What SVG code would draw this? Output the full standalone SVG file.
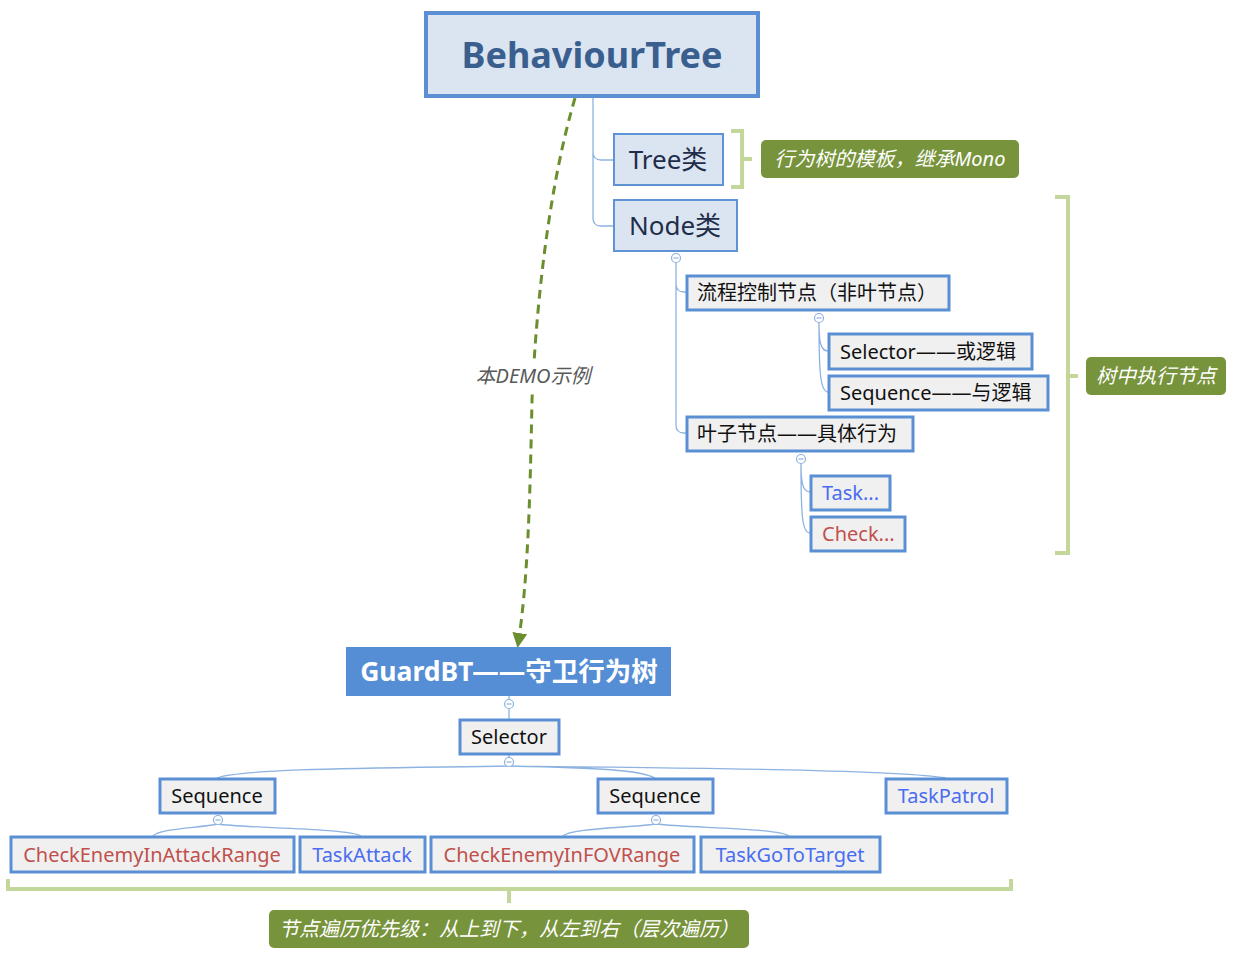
<svg xmlns="http://www.w3.org/2000/svg" width="1240" height="958" viewBox="0 0 1240 958">
<style>
text{font-family:"Noto Sans","Noto Sans CJK SC",sans-serif;}
.b1{fill:#dbe5f1;stroke:#5f93d6;stroke-width:2}
.b2{fill:#f0f0f0;stroke:#5b8fd4;stroke-width:3}
.t1{font-size:26px;fill:#1f2d4a;text-anchor:middle}
.t2{font-size:20px;fill:#111}
.t3{font-size:20px;fill:#111;text-anchor:middle}
.blue{fill:#4a6cf0}
.red{fill:#c0504d}
.ln{fill:none;stroke:#8db3e2;stroke-width:1.3}
.dot{fill:#fff;stroke:#8db3e2;stroke-width:1.2}
.mn{stroke:#8db3e2;stroke-width:1.2}
.br{fill:none;stroke:#c4d79b;stroke-width:4}
.gl{fill:#77933c}
.gt{font-size:20px;fill:#fff;font-style:italic;text-anchor:middle}
</style>
<defs>
<marker id="arr" viewBox="0 0 10 10" refX="8" refY="5" markerWidth="5" markerHeight="5" orient="auto">
<path d="M0,0 L10,5 L0,10 z" fill="#6b8e2f"/>
</marker>
<g id="col">
<circle class="dot" cx="0" cy="0" r="4.5"/>
<path class="mn" d="M-2.5,0 H2.5"/>
</g>
</defs>
<g id="connectors">
<path class="ln" d="M593,97 V152 Q593,160 601,160 H613 M593,152 V218 Q593,226 601,226 H613"/>
<path class="ln" d="M676,262 V284 Q676,292 684,292 H686 M676,284 V425 Q676,433 684,433 H686"/>
<path class="ln" d="M819,322 C819,340 820,351 828,351 M819,322 C819,370 820,392 828,392"/>
<path class="ln" d="M801,463 C801,480 802,492 810,492 M801,463 C801,515 802,533 810,533"/>
<path class="ln" d="M509,696 V719 M509,754 V758"/>
<path class="ln" d="M509,766 C400,768 240,768 217,778 M509,766 C600,768 640,770 655,778 M509,766 C700,768 900,770 946,778"/>
<path class="ln" d="M218,824 C200,828 160,828 153,836 M218,824 C240,828 350,828 361,836"/>
<path class="ln" d="M656,824 C630,828 570,828 563,836 M656,824 C690,828 780,828 789,836"/>
<path d="M575,98 C545,200 535,330 532,400 C530,500 528,580 518,645" fill="none" stroke="#6b8e2f" stroke-width="3" stroke-dasharray="9,6" marker-end="url(#arr)"/>
<path class="br" d="M731,131 H742 V187 H731 M742,159 H752"/>
<path class="br" d="M1055,197 H1068 V553 H1055 M1068,376 H1078"/>
<path class="br" d="M8,879 V889 H1011 V879 M509,889 V903"/>
<use href="#col" x="676" y="258"/>
<use href="#col" x="819" y="318"/>
<use href="#col" x="801" y="459"/>
<use href="#col" x="509" y="704"/>
<use href="#col" x="509" y="762"/>
<use href="#col" x="218" y="820"/>
<use href="#col" x="656" y="820"/>
</g>
<g id="demo-label">
<rect x="470" y="364" width="126" height="26" fill="#fff"/>
<text x="533" y="383" font-size="20" fill="#595959" font-style="italic" text-anchor="middle">本DEMO示例</text>
</g>
<g id="behaviourtree">
<rect x="426" y="13" width="332" height="83" fill="#dbe5f1" stroke="#5b8fd4" stroke-width="4"/>
<text x="592" y="68" font-size="36" font-weight="bold" fill="#3a5f8f" text-anchor="middle">BehaviourTree</text>
</g>
<g id="tree">
<rect class="b1" x="614" y="134" width="109" height="51"/>
<text class="t1" x="668" y="169">Tree类</text>
</g>
<g id="tree-note">
<rect class="gl" x="761" y="140" width="258" height="38" rx="5"/>
<text class="gt" x="890" y="166">行为树的模板，继承Mono</text>
</g>
<g id="node">
<rect class="b1" x="614" y="200" width="123" height="51"/>
<text class="t1" x="675" y="235">Node类</text>
</g>
<g id="flow">
<rect class="b2" x="687" y="276" width="262" height="34"/>
<text class="t2" x="697" y="300">流程控制节点（非叶节点）</text>
</g>
<g id="selector-def">
<rect class="b2" x="829" y="334" width="203" height="35"/>
<text class="t2" x="840" y="359">Selector——或逻辑</text>
</g>
<g id="sequence-def">
<rect class="b2" x="829" y="376" width="219" height="34"/>
<text class="t2" x="840" y="400">Sequence——与逻辑</text>
</g>
<g id="leaf">
<rect class="b2" x="687" y="417" width="226" height="34"/>
<text class="t2" x="697" y="441">叶子节点——具体行为</text>
</g>
<g id="task">
<rect class="b2" x="811" y="476" width="79" height="34"/>
<text class="t2 blue" x="822" y="500">Task...</text>
</g>
<g id="check">
<rect class="b2" x="811" y="517" width="94" height="34"/>
<text class="t2 red" x="822" y="541">Check...</text>
</g>
<g id="exec-note">
<rect class="gl" x="1086" y="357" width="140" height="38" rx="5"/>
<text class="gt" x="1156" y="383">树中执行节点</text>
</g>
<g id="guardbt">
<rect x="346" y="647" width="325" height="49" fill="#558ed5"/>
<text x="509" y="681" font-size="26.5" font-weight="bold" fill="#fff" text-anchor="middle">GuardBT——守卫行为树</text>
</g>
<g id="selector">
<rect class="b2" x="460" y="720" width="99" height="34"/>
<text class="t3" x="509" y="744">Selector</text>
</g>
<g id="sequence1">
<rect class="b2" x="160" y="779" width="115" height="34"/>
<text class="t3" x="217" y="803">Sequence</text>
</g>
<g id="sequence2">
<rect class="b2" x="598" y="779" width="115" height="34"/>
<text class="t3" x="655" y="803">Sequence</text>
</g>
<g id="taskpatrol">
<rect class="b2" x="886" y="779" width="121" height="34"/>
<text class="t3 blue" x="946" y="803">TaskPatrol</text>
</g>
<g id="checkattack">
<rect class="b2" x="11" y="837" width="283" height="35"/>
<text class="t3 red" x="152" y="862">CheckEnemyInAttackRange</text>
</g>
<g id="taskattack">
<rect class="b2" x="300" y="837" width="125" height="35"/>
<text class="t3 blue" x="362" y="862">TaskAttack</text>
</g>
<g id="checkfov">
<rect class="b2" x="431" y="837" width="263" height="35"/>
<text class="t3 red" x="562" y="862">CheckEnemyInFOVRange</text>
</g>
<g id="taskgoto">
<rect class="b2" x="701" y="837" width="179" height="35"/>
<text class="t3 blue" x="790" y="862">TaskGoToTarget</text>
</g>
<g id="priority-note">
<rect class="gl" x="269" y="910" width="480" height="38" rx="5"/>
<text class="gt" x="509" y="936">节点遍历优先级：从上到下，从左到右（层次遍历）</text>
</g>
</svg>
